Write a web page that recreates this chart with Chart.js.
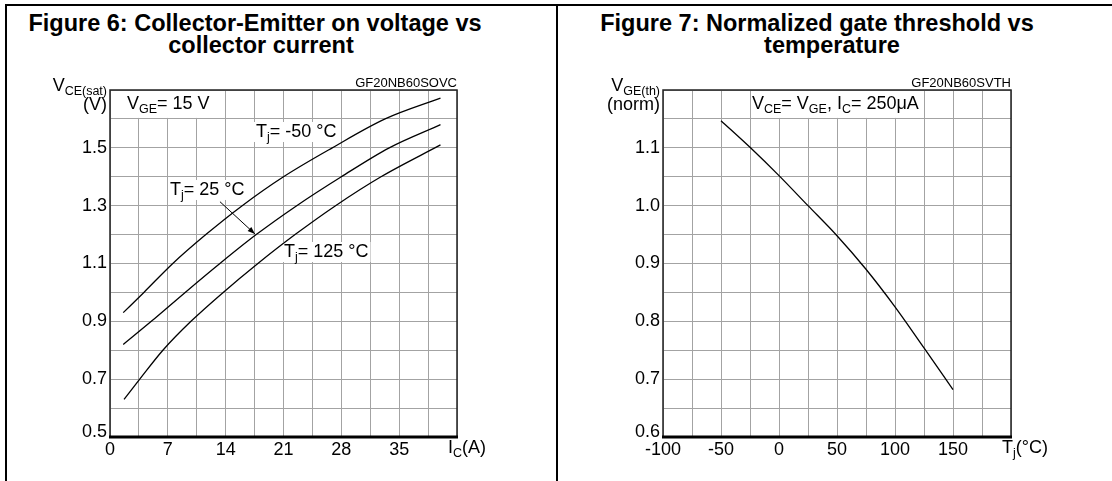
<!DOCTYPE html>
<html>
<head>
<meta charset="utf-8">
<script src="https://cdn.jsdelivr.net/npm/chart.js@4.4.1/dist/chart.umd.min.js"></script>
<style>
  body { margin: 0; width: 1112px; height: 481px; background: #fff; position: relative; overflow: hidden;
         font-family: "Liberation Sans", Arial, sans-serif; }
  .frame { position: absolute; background: #000; }
  .title { position: absolute; width: 600px; text-align: center; font-weight: bold; font-size: 23.5px;
           line-height: 22px; color: #000; white-space: nowrap; }
  canvas { position: absolute; }
</style>
</head>
<body>
<div class="frame" style="left:5px;top:4px;width:1107px;height:2px"></div>
<div class="frame" style="left:5px;top:4px;width:2px;height:477px"></div>
<div class="frame" style="left:556px;top:4px;width:2px;height:477px"></div>

<div class="title" style="left:-45px;top:12px">Figure 6: Collector-Emitter on voltage vs</div>
<div class="title" style="left:-39px;top:34px">collector current</div>
<div class="title" style="left:517px;top:12px">Figure 7: Normalized gate threshold vs</div>
<div class="title" style="left:532px;top:34px">temperature</div>

<canvas id="fig6" width="545" height="421" style="left:9px;top:60px"></canvas>
<canvas id="fig7" width="550" height="421" style="left:562px;top:60px"></canvas>

<script>
// Figure 6 : Vce(sat) against Ic for three junction temperatures
const seriesTj = ['-50 °C', '25 °C', '125 °C'];
const icM50  = [1.6, 4.1, 7.6, 11.6, 16.0, 21.0, 26.9, 33.3, 40];
const vceM50 = [0.93, 1.00, 1.10, 1.20, 1.30, 1.40, 1.50, 1.60, 1.672];
const ic25   = [1.6, 5.0, 9.1, 13.3, 17.7, 22.6, 28.0, 33.8, 40];
const vce25  = [0.82, 0.90, 1.00, 1.10, 1.20, 1.30, 1.40, 1.50, 1.58];
const ic125  = [1.7, 3.6, 6.4, 9.8, 13.7, 17.9, 22.4, 27.3, 32.8, 40];
const vce125 = [0.63, 0.70, 0.80, 0.90, 1.00, 1.10, 1.20, 1.30, 1.40, 1.51];
const icTicks  = [0, 7, 14, 21, 28, 35];
const vceTicks = [0.5, 0.7, 0.9, 1.1, 1.3, 1.5];

// Figure 7 : normalized Vge(th) against Tj
const tj     = [-50, -25, 0, 25, 50, 75, 100, 125, 150];
const vgeth  = [1.147, 1.101, 1.052, 1.000, 0.948, 0.890, 0.825, 0.754, 0.682];
const tjTicks   = [-100, -50, 0, 50, 100, 150];
const normTicks = [0.6, 0.7, 0.8, 0.9, 1.0, 1.1];

const FONT = '"Liberation Sans", Arial, sans-serif';
const pts = (xs, ys) => xs.map((x, i) => ({ x, y: ys[i] }));

// text with subscripts: parts = [[text, isSub], ...]
function richWidth(ctx, parts) {
  let w = 0;
  for (const [t, sub] of parts) {
    ctx.font = (sub ? 12.5 : 18) + 'px ' + FONT;
    w += ctx.measureText(t).width;
  }
  return w;
}
function drawRich(ctx, parts, x, y, align) {
  let cx = align === 'right' ? x - richWidth(ctx, parts) : x;
  ctx.fillStyle = '#000';
  ctx.textAlign = 'left';
  ctx.textBaseline = 'alphabetic';
  for (const [t, sub] of parts) {
    ctx.font = (sub ? 12.5 : 18) + 'px ' + FONT;
    ctx.fillText(t, cx, sub ? y + 4 : y);
    cx += ctx.measureText(t).width;
  }
}

function figurePlugin(spec) {
  return {
    id: 'fig',
    beforeDatasetsDraw(chart) {
      const { ctx, scales: { x, y } } = chart;
      ctx.save();
      ctx.fillStyle = '#fff';
      for (const l of spec.labels) {
        if (l.box) {
          const x0 = x.getPixelForValue(l.box[0]) + 1, x1 = x.getPixelForValue(l.box[1]) - 1;
          const y0 = y.getPixelForValue(l.box[3]) + 1, y1 = y.getPixelForValue(l.box[2]) - 1;
          ctx.fillRect(x0, y0, x1 - x0, y1 - y0);
        } else {
          const px = x.getPixelForValue(l.x), py = y.getPixelForValue(l.y);
          ctx.fillRect(px - 2, py - 15, richWidth(ctx, l.parts) + 4, 20);
        }
      }
      ctx.restore();
    },
    afterDatasetsDraw(chart) {
      const { ctx, scales: { x, y } } = chart;
      ctx.save();
      for (const l of spec.labels) {
        drawRich(ctx, l.parts, x.getPixelForValue(l.x), y.getPixelForValue(l.y));
      }
      for (const a of spec.arrows || []) {
        const x0 = x.getPixelForValue(a[0]), y0 = y.getPixelForValue(a[1]);
        const x1 = x.getPixelForValue(a[2]), y1 = y.getPixelForValue(a[3]);
        const ang = Math.atan2(y1 - y0, x1 - x0);
        ctx.strokeStyle = '#000';
        ctx.lineWidth = 1;
        ctx.beginPath(); ctx.moveTo(x0, y0); ctx.lineTo(x1, y1); ctx.stroke();
        ctx.fillStyle = '#000';
        ctx.beginPath();
        ctx.moveTo(x1, y1);
        ctx.lineTo(x1 - 8 * Math.cos(ang - 0.35), y1 - 8 * Math.sin(ang - 0.35));
        ctx.lineTo(x1 - 8 * Math.cos(ang + 0.35), y1 - 8 * Math.sin(ang + 0.35));
        ctx.closePath(); ctx.fill();
      }
      ctx.restore();
    },
    afterDraw(chart) {
      const { ctx, chartArea: ca, scales: { y } } = chart;
      ctx.save();
      // plot frame
      ctx.strokeStyle = '#222';
      ctx.lineWidth = 1.5;
      ctx.beginPath();
      ctx.moveTo(ca.left, ca.bottom); ctx.lineTo(ca.left, ca.top);
      ctx.lineTo(ca.right, ca.top); ctx.lineTo(ca.right, ca.bottom);
      ctx.stroke();
      ctx.strokeStyle = '#000';
      ctx.lineWidth = 3;
      ctx.beginPath(); ctx.moveTo(ca.left - 1, ca.bottom); ctx.lineTo(ca.right + 1, ca.bottom); ctx.stroke();
      // bottom y label sits on the axis
      ctx.font = '18px ' + FONT;
      ctx.fillStyle = '#000';
      ctx.textAlign = 'right';
      ctx.textBaseline = 'alphabetic';
      ctx.fillText(spec.yTicks[0].toFixed(1), ca.left - 3, y.getPixelForValue(spec.yTicks[0]));
      // axis names and code
      drawRich(ctx, spec.yName, ca.left - 3, ca.top + 1, 'right');
      drawRich(ctx, spec.yUnit, ca.left - 3, ca.top + 20, 'right');
      drawRich(ctx, spec.xName, ca.right - 9, ca.bottom + 16);
      ctx.font = '13px ' + FONT;
      ctx.textAlign = 'right';
      ctx.fillStyle = '#000';
      ctx.fillText(spec.code, ca.right, ca.top - 3);
      ctx.restore();
    }
  };
}

function makeChart(id, datasets, xs, ys, padRight, spec) {
  return new Chart(document.getElementById(id), {
    type: 'scatter',
    data: {
      datasets: datasets.map(d => ({
        label: d.label,
        data: d.data,
        showLine: true,
        borderColor: '#000',
        borderWidth: 1.3,
        pointRadius: 0,
        cubicInterpolationMode: 'monotone',
        fill: false
      }))
    },
    options: {
      responsive: false,
      animation: false,
      devicePixelRatio: 1,
      layout: { padding: { top: 30, right: padRight, left: 0, bottom: 0 } },
      plugins: { legend: { display: false }, tooltip: { enabled: false } },
      scales: {
        x: {
          type: 'linear', min: xs.min, max: xs.max,
          border: { display: false },
          grid: { color: '#a3a3a3', lineWidth: 1, drawTicks: false },
          ticks: {
            stepSize: xs.step, autoSkip: false, maxRotation: 0, padding: 2, color: '#000',
            font: { family: FONT, size: 18 },
            callback: v => xs.labels.some(t => Math.abs(t - v) < 1e-6) ? String(v) : ''
          },
          afterFit: s => { s.height = 44; }
        },
        y: {
          type: 'linear', min: ys.min, max: ys.max,
          border: { display: false },
          grid: { color: '#a3a3a3', lineWidth: 1, drawTicks: false },
          ticks: {
            stepSize: ys.step, autoSkip: false, padding: 3, color: '#000',
            font: { family: FONT, size: 18 },
            callback: v => ys.labels.slice(1).some(t => Math.abs(t - v) < 1e-6) ? v.toFixed(1) : ''
          },
          afterFit: s => { s.width = 101; }
        }
      }
    },
    plugins: [figurePlugin(spec)]
  });
}

makeChart('fig6', [
    { label: seriesTj[0], data: pts(icM50, vceM50) },
    { label: seriesTj[1], data: pts(ic25, vce25) },
    { label: seriesTj[2], data: pts(ic125, vce125) }
  ],
  { min: 0, max: 42, step: 3.5, labels: icTicks },
  { min: 0.5, max: 1.7, step: 0.1, labels: vceTicks },
  97,
  {
    yTicks: vceTicks,
    code: 'GF20NB60SOVC',
    yName: [['V'], ['CE(sat)', 1]],
    yUnit: [['(V)']],
    xName: [['I'], ['C', 1], ['(A)']],
    labels: [
      { parts: [['V'], ['GE', 1], ['= 15 V']], x: 2.06, y: 1.634, box: [0, 14, 1.6, 1.7] },
      { parts: [['T'], ['j', 1], ['= ' + seriesTj[0]]], x: 17.67, y: 1.5375 },
      { parts: [['T'], ['j', 1], ['= ' + seriesTj[1]]], x: 7.26, y: 1.337 },
      { parts: [['T'], ['j', 1], ['= ' + seriesTj[2]]], x: 21.06, y: 1.1225 }
    ],
    arrows: [[13.31, 1.3137, 17.55, 1.202]]
  });

makeChart('fig7', [
    { label: 'VGE(th)', data: pts(tj, vgeth) }
  ],
  { min: -100, max: 200, step: 25, labels: tjTicks },
  { min: 0.6, max: 1.2, step: 0.05, labels: normTicks },
  101,
  {
    yTicks: normTicks,
    code: 'GF20NB60SVTH',
    yName: [['V'], ['GE(th)', 1]],
    yUnit: [['(norm)']],
    xName: [['T'], ['j', 1], ['(°C)']],
    labels: [
      { parts: [['V'], ['CE', 1], ['= V'], ['GE', 1], [', I'], ['C', 1], ['= 250μA']], x: -23.3, y: 1.1671,
        box: [-25, 125, 1.15, 1.2] }
    ]
  });
</script>
</body>
</html>
